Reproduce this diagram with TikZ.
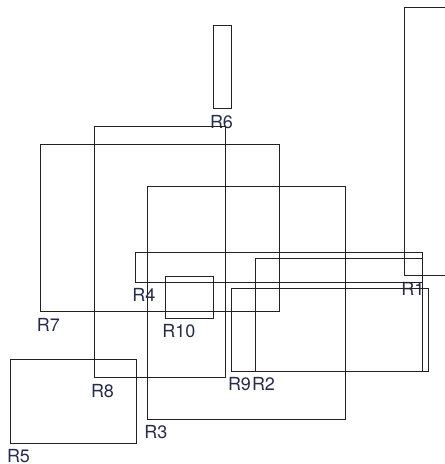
\documentclass[tikz,border=0pt]{standalone}
\usepackage{fontspec}
\setmainfont{TeX Gyre Heros}
\definecolor{labcol}{HTML}{262B4A}
\definecolor{boxcol}{HTML}{222222}
\tikzset{
  rbox/.style={draw=boxcol, line width=0.9pt},
  rlab/.style={anchor=base west, inner sep=0pt, text=labcol, font=\fontsize{18}{20}\selectfont}
}
\newcommand{\myrect}[5]{%
  \draw[rbox] (#2,#3) rectangle (#4,#5);
  \node[rlab] (#1) at ({#2-3.5},{#5+19.5}) {#1};
}
\begin{document}
\begin{tikzpicture}[x=1pt,y=-1pt]
\useasboundingbox (0,0) rectangle (445,464);
\myrect{R1}{404.7}{7}{470}{275.7}
\myrect{R2}{255.3}{258.3}{422.7}{371.3}
\myrect{R3}{147.7}{186.7}{345}{419.3}
\myrect{R4}{135.7}{252.7}{422.7}{282}
\myrect{R5}{10.3}{359.7}{136}{443}
\myrect{R6}{213.3}{25}{231.7}{108.7}
\myrect{R7}{40.3}{144.7}{279.3}{311.7}
\myrect{R8}{94.3}{126.7}{225.3}{377.7}
\myrect{R9}{231.3}{288.3}{428.7}{371.3}
\myrect{R10}{165.7}{276}{213.7}{318}
\end{tikzpicture}
\end{document}
